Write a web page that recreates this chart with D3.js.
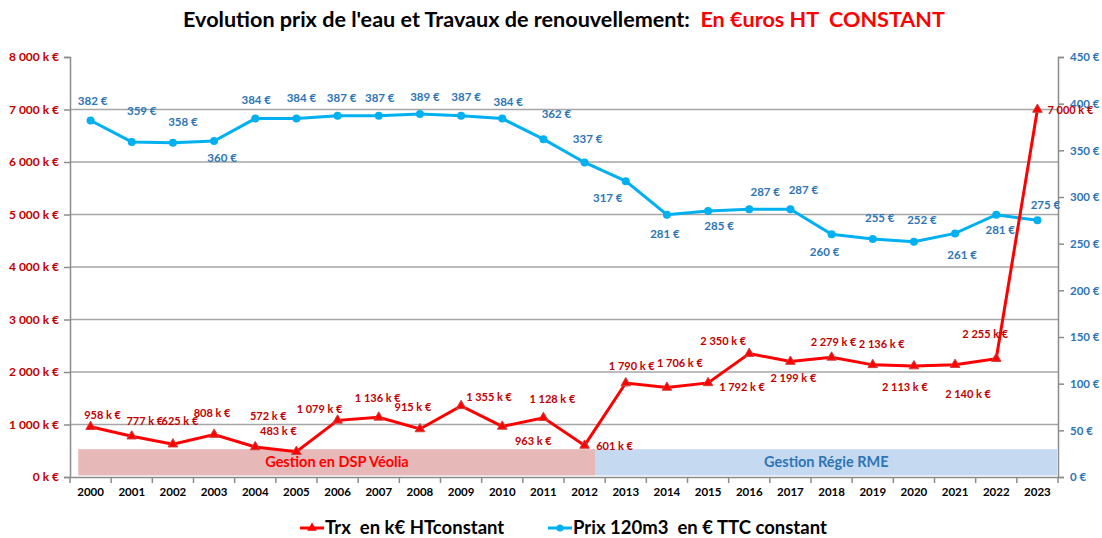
<!DOCTYPE html>
<html>
<head>
<meta charset="utf-8">
<script src="https://cdn.jsdelivr.net/npm/d3@7"></script>
<style>
  body { margin: 0; background: #fff; }
  svg { font-family: Lato, "Open Sans", sans-serif; font-weight: bold; }
  svg text { white-space: pre; }
  .grid line { stroke: #a6a6a6; stroke-width: 1.5; }
  .axis path, .axis line { stroke: #8c8c8c; stroke-width: 1.5; }
</style>
</head>
<body>
<svg id="chart" width="1102" height="538"></svg>
<script>
  const years = ['2000','2001','2002','2003','2004','2005','2006','2007','2008','2009','2010','2011',
    '2012','2013','2014','2015','2016','2017','2018','2019','2020','2021','2022','2023'];
  // Trx en k€ HT constant
  const travaux = [958, 777, 625, 808, 572, 483, 1079, 1136, 915, 1355, 963, 1128,
    601, 1790, 1706, 1792, 2350, 2199, 2279, 2136, 2113, 2140, 2255, 7000];
  // Prix 120m3 en € TTC constant
  const prix = [382, 359, 358, 360, 384, 384, 387, 387, 389, 387, 384, 362,
    337, 317, 281, 285, 287, 287, 260, 255, 252, 261, 281, 275];
  const leftTicks = [0, 1000, 2000, 3000, 4000, 5000, 6000, 7000, 8000];
  const rightTicks = [0, 50, 100, 150, 200, 250, 300, 350, 400, 450];
  const periods = [
    { label: 'Gestion en DSP Véolia', from: '2000', to: '2012' },
    { label: 'Gestion Régie RME', from: '2013', to: '2023' }
  ];

  // hand placed label offsets (like the manually dragged labels in the original)
  const travauxLabelOffsets = [[12,-12],[13,-15],[7,-23],[-2,-21],[13,-31],[-18,-20],[-18,-11],[-1,-19],
    [-7,-22],[28,-9],[31,15],[9,-19],[30,1],[6,-17],[13,-24],[34,4],[-26,-12],[3,17],[2,-15],[9,-21],
    [-9,21],[13,29],[-11,-24],[33,1]];
  const prixLabelOffsets = [[2,-19],[10,-31],[10,-21],[8,17],[1,-19],[5,-21],[4,-18],[1,-18],[5,-17],
    [5,-19],[6,-17],[13,-25],[3,-23],[-18,17],[-2,19],[11,15],[16,-17],[13,-19],[-7,18],[7,-21],[8,-22],
    [7,22],[4,15],[8,-15]];

  const red = '#ff0000', darkRed = '#c00000', blue = '#00b0f0', darkBlue = '#2e75b6';
  const margin = { top: 57, right: 44, bottom: 61, left: 70 };
  const width = 1102, height = 538;
  const svg = d3.select('#chart');

  const x = d3.scaleBand().domain(years).range([margin.left, width - margin.right]);
  const yL = d3.scaleLinear().domain([0, 8000]).range([height - margin.bottom, margin.top]);
  const yR = d3.scaleLinear().domain([0, 450]).range([height - margin.bottom, margin.top]);
  const cx = d => x(d) + x.bandwidth() / 2;
  const fmt = v => d3.format(',')(v).replace(/,/g, ' ');
  const bw = x.bandwidth();

  // gridlines
  svg.append('g').attr('class', 'grid')
    .selectAll('line').data(leftTicks.filter(t => t > 0 && t < 8000)).join('line')
    .attr('x1', margin.left).attr('x2', width - margin.right)
    .attr('y1', d => yL(d)).attr('y2', d => yL(d));

  // management periods
  const periodG = svg.append('g');
  const split = cx(periods[0].to) + bw * 0.27;
  periods.forEach((p, i) => {
    const x0 = i === 0 ? cx(p.from) - bw * 0.3 : split;
    const x1 = i === 0 ? split : x(p.to) + bw - 1;
    periodG.append('rect')
      .attr('x', x0).attr('y', yL(530))
      .attr('width', x1 - x0).attr('height', yL(30) - yL(530))
      .attr('fill', i === 0 ? '#e6b9b8' : '#c5d9f1');
    periodG.append('text')
      .attr('x', (x0 + x1) / 2).attr('y', yL(280))
      .attr('dy', '0.35em').attr('text-anchor', 'middle')
      .attr('font-size', 14.5).attr('fill', i === 0 ? red : darkBlue)
      .text(p.label);
  });

  // axes
  const leftAxis = svg.append('g').attr('class', 'axis')
    .attr('transform', `translate(${margin.left},0)`)
    .call(d3.axisLeft(yL).tickValues(leftTicks).tickSize(6).tickPadding(5).tickFormat(d => fmt(d) + ' k €'));
  leftAxis.selectAll('text').attr('fill', darkRed).attr('font-size', 12).attr('font-family', 'Lato, sans-serif');

  const rightAxis = svg.append('g').attr('class', 'axis')
    .attr('transform', `translate(${width - margin.right},0)`)
    .call(d3.axisRight(yR).tickValues(rightTicks).tickSize(6).tickPadding(6).tickFormat(d => d + ' €'));
  rightAxis.selectAll('text').attr('fill', darkBlue).attr('font-size', 11.5).attr('font-family', 'Lato, sans-serif');

  const bottomAxis = svg.append('g').attr('class', 'axis')
    .attr('transform', `translate(0,${height - margin.bottom})`)
    .call(d3.axisBottom(x).tickSize(0).tickPadding(11));
  bottomAxis.selectAll('text').attr('fill', '#000').attr('font-size', 11.5).attr('font-family', 'Lato, sans-serif');
  bottomAxis.selectAll('.sep').data(years.concat(['end'])).join('line')
    .attr('x1', (d, i) => margin.left + i * bw).attr('x2', (d, i) => margin.left + i * bw)
    .attr('y1', 0).attr('y2', 6).attr('stroke', '#8c8c8c').attr('stroke-width', 1.5);

  // prix line
  const lineR = d3.line().x((d, i) => cx(years[i])).y(d => yR(d));
  svg.append('path').datum(prix)
    .attr('d', lineR).attr('fill', 'none').attr('stroke', blue).attr('stroke-width', 3);
  svg.append('g').selectAll('circle').data(prix).join('circle')
    .attr('cx', (d, i) => cx(years[i])).attr('cy', d => yR(d)).attr('r', 4).attr('fill', blue);

  // travaux line
  const lineL = d3.line().x((d, i) => cx(years[i])).y(d => yL(d));
  svg.append('path').datum(travaux)
    .attr('d', lineL).attr('fill', 'none').attr('stroke', red).attr('stroke-width', 3);
  const tri = d3.symbol().type(d3.symbolTriangle).size(40);
  svg.append('g').selectAll('path').data(travaux).join('path')
    .attr('d', tri)
    .attr('transform', (d, i) => `translate(${cx(years[i])},${yL(d)})`)
    .attr('fill', red).attr('stroke', '#d04040').attr('stroke-width', 1);

  // data labels
  svg.append('g').selectAll('text').data(prix).join('text')
    .attr('x', (d, i) => cx(years[i]) + prixLabelOffsets[i][0])
    .attr('y', (d, i) => yR(d) + prixLabelOffsets[i][1])
    .attr('dy', '0.35em').attr('text-anchor', 'middle')
    .attr('font-size', 11.5).attr('fill', darkBlue)
    .text(d => d + ' €');
  svg.append('g').selectAll('text').data(travaux).join('text')
    .attr('x', (d, i) => cx(years[i]) + travauxLabelOffsets[i][0])
    .attr('y', (d, i) => yL(d) + travauxLabelOffsets[i][1])
    .attr('dy', '0.35em').attr('text-anchor', 'middle')
    .attr('font-size', 11).attr('fill', darkRed)
    .text(d => fmt(d) + ' k €');

  // title
  const title = svg.append('text').attr('x', 564).attr('y', 27).attr('text-anchor', 'middle')
    .attr('font-size', 21.6);
  title.append('tspan').attr('fill', '#000').text("Evolution prix de l'eau et Travaux de renouvellement:  ");
  title.append('tspan').attr('fill', red).text('En €uros HT  CONSTANT');

  // legend
  const legend = svg.append('g').attr('transform', 'translate(0,528)');
  const items = [
    { label: 'Trx  en k€ HTconstant', color: red, x: 300, symbol: 'tri' },
    { label: 'Prix 120m3  en € TTC constant', color: blue, x: 548, symbol: 'circle' }
  ];
  items.forEach(it => {
    legend.append('line').attr('x1', it.x).attr('x2', it.x + 24).attr('y1', 0).attr('y2', 0)
      .attr('stroke', it.color).attr('stroke-width', 3);
    if (it.symbol === 'tri') {
      legend.append('path').attr('d', tri).attr('transform', `translate(${it.x + 12},0)`).attr('fill', it.color);
    } else {
      legend.append('circle').attr('cx', it.x + 12).attr('cy', 0).attr('r', 3.5).attr('fill', it.color);
    }
    legend.append('text').attr('x', it.x + 25).attr('y', 0).attr('dy', '0.35em')
      .attr('font-size', 18.5).attr('fill', '#000').text(it.label);
  });
</script>
</body>
</html>
